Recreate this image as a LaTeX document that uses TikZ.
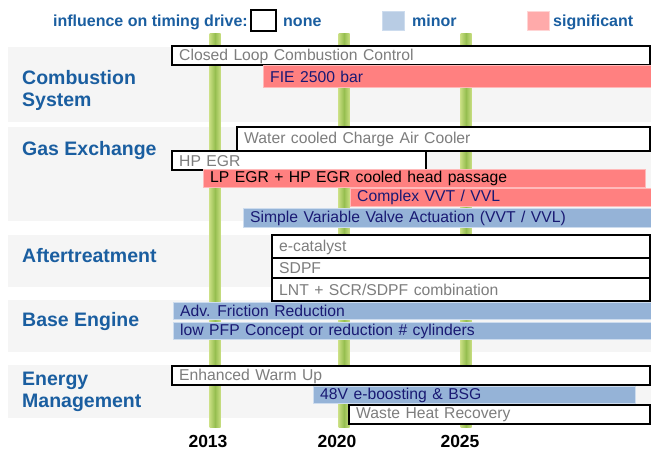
\documentclass[tikz,border=0pt]{standalone}
\usepackage{fontspec}
\setmainfont{Liberation Sans}
\newfontfamily\barfont[WordSpace=1.25]{Liberation Sans}
\definecolor{ttl}{RGB}{26,94,160}
\definecolor{panel}{RGB}{245,245,245}
\definecolor{redbar}{RGB}{255,128,128}
\definecolor{rededge}{RGB}{255,185,185}
\definecolor{bluebar}{RGB}{149,179,215}
\definecolor{blueedge}{RGB}{205,220,238}
\definecolor{navy}{RGB}{25,25,115}
\definecolor{graytxt}{RGB}{125,125,125}
\definecolor{glight}{RGB}{200,222,130}
\definecolor{gdark}{RGB}{150,190,80}
\definecolor{legblue}{RGB}{184,204,228}
\definecolor{legred}{RGB}{255,170,170}
\tikzset{
  panelbox/.style={fill=panel, draw=none},
  gline/.style={left color=glight, right color=glight, middle color=gdark, draw=none},
  nonebox/.style={fill=white, draw=black, line width=1.5pt},
  redbox/.style={fill=redbar, draw=rededge, line width=0.8pt},
  bluebox/.style={fill=bluebar, draw=blueedge, line width=0.8pt},
  bartext/.style={font=\barfont\fontsize{15.7}{18}\selectfont, inner sep=0pt},
  title/.style={font=\fontsize{19.5}{22}\selectfont\bfseries, text=ttl, align=left, inner sep=0pt, anchor=west},
  legtext/.style={font=\fontsize{16}{18}\selectfont\bfseries, text=ttl, inner sep=0pt},
  year/.style={font=\fontsize{17.5}{20}\selectfont\bfseries, text=black, inner sep=0pt, anchor=base}
}
\newcommand\timebar[8]{%
  \path[#2] (#3,#4) rectangle (#5,#6);
  \node[bartext, text=#7, anchor=west] (#1) at ({#3+7},{(#4+#6)/2+0.5}) {#8};}
\begin{document}
\begin{tikzpicture}[x=1pt,y=-1pt]
\useasboundingbox (0,0) rectangle (651,450);
% legend
\node[legtext, anchor=base east] (leg) at (248,26) {influence on timing drive:};
\path[fill=white, draw=black, line width=1.8pt] (251,10) rectangle (276,31);
\node[legtext, anchor=base west] (lnone) at (283,26) {none};
\path[fill=legblue, draw=blueedge, line width=0.8pt] (382,11) rectangle (404,30);
\node[legtext, anchor=base west] (lminor) at (412,26) {minor};
\path[fill=legred, draw=rededge!60!white, line width=0.8pt] (527,11) rectangle (549,30);
\node[legtext, anchor=base west] (lsig) at (553,26) {significant};
% panels
\path[panelbox] (8,47) rectangle (651,122);
\path[panelbox] (8,127) rectangle (651,221);
\path[panelbox] (8,235) rectangle (651,287);
\path[panelbox] (8,300) rectangle (651,352);
\path[panelbox] (8,365) rectangle (651,418);
% titles
\node[title] (t1) at (22,90) {Combustion\\System};
\node[title] (t2) at (22,150) {Gas Exchange};
\node[title] (t3) at (22,256) {Aftertreatment};
\node[title] (t4) at (22,321) {Base Engine};
\node[title] (t5) at (22,392) {Energy\\Management};
% green year lines
\path[gline] (209.5,33) rectangle (220.5,427);
\path[gline] (338.5,33) rectangle (349.5,427);
\path[gline] (460.5,33) rectangle (471.5,427);
% bars
\timebar{b1}{nonebox}{172}{46}{650}{65}{graytxt}{Closed Loop Combustion Control}
\timebar{b2}{redbox}{263}{65}{651}{87}{navy}{FIE 2500 bar}
\timebar{b3}{nonebox}{237}{127}{650}{151}{graytxt}{Water cooled Charge Air Cooler}
\timebar{b4}{nonebox}{172}{151}{426}{170}{graytxt}{HP EGR}
\timebar{b5}{redbox}{203}{169}{645}{187}{black}{LP EGR + HP EGR cooled head passage}
\timebar{b6}{redbox}{350}{188}{651}{206}{navy}{Complex VVT / VVL}
\timebar{b7}{bluebox}{243}{208}{651}{227}{navy}{Simple Variable Valve Actuation (VVT / VVL)}
\timebar{b8}{nonebox}{272}{235}{650}{258}{graytxt}{e-catalyst}
\timebar{b9}{nonebox}{272}{258}{650}{278}{graytxt}{SDPF}
\timebar{b10}{nonebox}{272}{278}{650}{301}{graytxt}{LNT + SCR/SDPF combination}
\timebar{b11}{bluebox}{173}{302}{651}{319}{navy}{Adv. Friction Reduction}
\timebar{b12}{bluebox}{173}{322}{651}{339}{navy}{low PFP Concept or reduction \# cylinders}
\timebar{b13}{nonebox}{172}{366}{650}{385}{graytxt}{Enhanced Warm Up}
\timebar{b14}{bluebox}{313}{386}{635}{403}{navy}{48V e-boosting \& BSG}
\timebar{b15}{nonebox}{349}{405}{650}{424}{graytxt}{Waste Heat Recovery}
% years
\node[year] (y1) at (208,447) {2013};
\node[year] (y2) at (337,447) {2020};
\node[year] (y3) at (460,447) {2025};
\end{tikzpicture}
\end{document}
